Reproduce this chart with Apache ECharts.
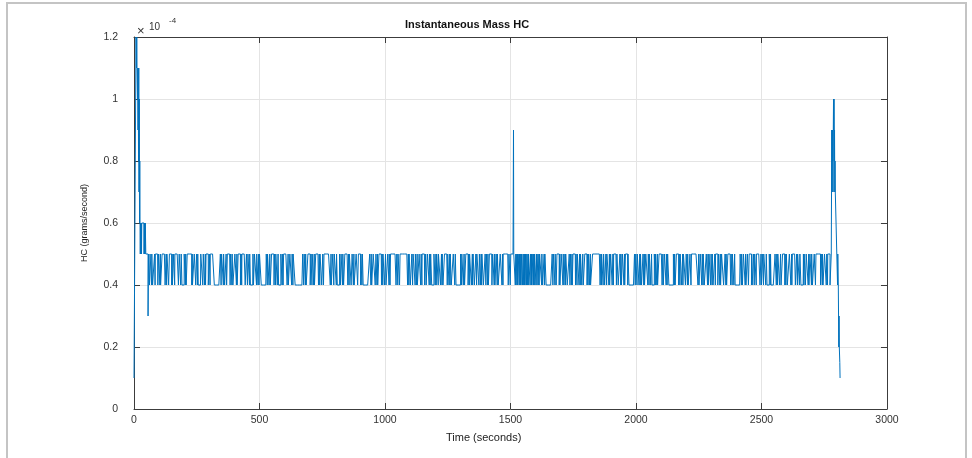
<!DOCTYPE html>
<html>
<head>
<meta charset="utf-8">
<script src="https://cdn.jsdelivr.net/npm/echarts@6/dist/echarts.min.js"></script>
<style>
html,body{margin:0;padding:0;background:#fff;}
#chart{width:972px;height:458px;}
</style>
</head>
<body>
<div id="chart"></div>
<script>
// Values are in units of 1e-4 grams/second (axis multiplier shown as ×10^-4)
const xTicks = [0, 500, 1000, 1500, 2000, 2500, 3000];
const yTicks = [0, 0.2, 0.4, 0.6, 0.8, 1, 1.2];

// t = 0 .. 57 s, one value per second
const startValues = [0.1,0.1,0.1,0.1,0.1,0.1,0.1,0.1,
  1.2,1.2,1.1,1.2,1.1,1.1,1.0,1.1,0.9,1.1,0.8,1.1,0.7,1.0,0.6,0.8,0.6,
  0.5,0.6,0.6,0.5,0.6,0.5,0.6,
  0.6,0.6,0.6,0.6,0.6,0.6,0.6,0.6,
  0.5,0.6,0.5,0.6,0.5,0.6,0.6,0.5,
  0.5,0.5,0.5,0.5,0.5,0.5,0.5,0.5,
  0.3,0.4];

const highLevel = 0.5;
const lowLevel = 0.4;
// run lengths in seconds from t = 58: positive = highLevel, negative = lowLevel
const runs = [
  4,-2,6,-1,3,-8,2,-1,10,-3,5,-2,1,-6,12,-4,2,-1,7,-3,9,-2,1,-5,4,-1,14,-3,6,-2,3,-9,5,-1,2,-4,18,-2,1,-7,6,-3,4,-1,2,-10,8,-2,5,-3,1,-2,9,-4,3,-1,16,
  -24,3,-2,7,-1,4,-6,2,-3,11,-2,5,-1,3,-8,6,-2,1,-4,9,-3,2,-1,13,-5,4,-2,6,-1,3,-10,2,-4,8,-1,5,-3,1,-2,7,-20,4,-1,6,-3,2,
  -5,10,-2,4,-1,6,-3,2,-9,5,-1,3,-2,14,-4,1,-6,7,-2,3,-1,8,-30,4,-2,5,-1,2,-7,9,-3,4,-1,6,-2,1,-5,11,-3,2,-1,7,-4,3,-2,25,-3,1,-6,4,-2,8,-1,3,
  -9,4,-2,6,-1,3,-5,12,-3,2,-1,7,-4,5,-2,1,-8,6,-3,9,-1,4,-2,3,-26,5,-1,2,-6,8,-3,4,-2,1,-5,10,-2,3,-1,6,-4,2,-7,5,-1,3,-2,22,-3,4,-1,6,-2,
  30,-3,2,-1,5,-6,3,-2,8,-1,4,-3,1,-7,6,-2,3,-1,10,-4,2,-5,7,-1,3,-2,4,-9,5,-3,1,-2,6,-1,8,-4,2,-1,3,-6,11,-2,5,-3,1,-1,4,-8,6,-2,3,
  -18,4,-1,6,-3,2,-5,9,-2,3,-1,7,-4,1,-2,5,-6,3,-1,8,-2,4,-3,2,-1,6,-7,3,-2,5,-1,2,-4,10,-3,6,-2,1,-5,4,-1,3,-8,7,-2,2,-1,20,-3,5,-2,18,
  -2,1,-3,2,-1,1,-4,2,-1,3,-2,1,-1,5,-2,1,-3,2,-1,1,-2,4,-1,2,-3,1,-1,6,-2,3,-1,1,-4,2,-2,1,-1,3,-5,2,-1,4,-3,1,-2,8,-1,3,-6,2,-1,5,-24,3,-2,6,-1,4,-3,9,-2,1,-5,7,-1,3,-4,2,-1,6,-8,3,-2,5,-1,1,-3,10,-2,4,-1,
  7,-2,3,-1,5,-4,2,-6,9,-1,3,-2,4,-3,1,-8,30,-3,2,-1,6,-2,4,-5,3,-1,8,-2,1,-4,6,-3,2,-1,11,-2,5,-7,3,-1,2,-4,6,-2,1,-3,9,-1,4,-22,3,-2,5,-1,7,-3,2,-1,4,-6,3,-2,1,
  -5,8,-2,3,-1,6,-3,2,-9,4,-1,5,-2,1,-6,12,-3,2,-4,7,-1,3,-2,5,-18,4,-1,2,-5,9,-2,3,-1,6,-4,1,-2,8,-3,5,-1,2,-7,4,-2,26,-3,1,-5,6,-2,3,-1,4,-8,5,-2,1,-3,
  6,-2,4,-1,3,-7,2,-1,9,-3,5,-2,1,-4,8,-6,3,-1,2,-5,11,-2,4,-1,6,-3,2,-20,5,-1,3,-4,7,-2,1,-6,4,-3,9,-1,2,-5,3,-2,6,-1,14,-4,2,-3,5,-1,8,-2,3,-9,4,-1,2,
  -16,5,-2,3,-1,7,-4,2,-6,9,-1,3,-2,4,-8,6,-3,1,-2,12,-5,3,-1,7,-2,4,-10,2,-1,5,-3,8,-2,1,-4,6,-1,3,-7,5,-2,18,-3,4,-1,2,-6,7,-2,3,-1,9,-4
];

// single-sample spike in the middle of the run
const spikeTimes = [1512];
const spikeValues = [0.9];

// final seconds of the record, one value per second
const endValues = [0.4,0.5,0.7,0.9,0.7,0.9,0.8,0.9,0.7,0.9,1.0,0.9,1.0,0.8,0.9,0.7,0.8,0.7,0.7,0.7,
  0.6,0.6,0.6,0.5,0.5,0.5,0.4,0.5,0.5,0.4,0.3,0.2,0.3,0.2,0.2,0.15,0.1];

const values = [];
startValues.forEach(v => values.push(v));
runs.forEach(r => {
  const n = Math.abs(r);
  const v = r > 0 ? highLevel : lowLevel;
  for (let i = 0; i < n; i++) values.push(v);
});
endValues.forEach(v => values.push(v));
spikeTimes.forEach((t, i) => { if (t < values.length) values[t] = spikeValues[i]; });
const data = values.map((v, t) => [t, v]);

const chart = echarts.init(document.getElementById('chart'), null, {renderer: 'canvas'});
const axisColor = '#3c3c3c';
const gridColor = '#e4e4e4';
const labelStyle = {color: '#333', fontSize: 10.5, fontFamily: 'Liberation Sans'};
const gridL = 134, gridR = 85, gridT = 37, gridB = 49;

const xBase = {
  type: 'value', min: 0, max: 3000, interval: 500,
  axisLine: {show: true, onZero: false, lineStyle: {color: axisColor, width: 1}},
  axisTick: {show: true, inside: true, length: 6, lineStyle: {color: axisColor}},
};
const yBase = {
  type: 'value', min: 0, max: 1.2, interval: 0.2,
  axisLine: {show: true, onZero: false, lineStyle: {color: axisColor, width: 1}},
  axisTick: {show: true, inside: true, length: 6, lineStyle: {color: axisColor}},
};

chart.setOption({
  animation: false,
  backgroundColor: '#fff',
  title: {
    text: 'Instantaneous Mass HC', left: 400, top: 14,
    textStyle: {fontSize: 11, fontWeight: 'bold', color: '#111', fontFamily: 'Liberation Sans'}
  },
  grid: {left: gridL, right: gridR, top: gridT, bottom: gridB, containLabel: false, outerBoundsMode: 'none'},
  xAxis: [
    Object.assign({}, xBase, {
      position: 'bottom',
      axisLabel: Object.assign({margin: 6, formatter: v => xTicks.includes(v) ? String(v) : ''}, labelStyle),
      splitLine: {show: true, lineStyle: {color: gridColor, width: 1}}
    }),
    Object.assign({}, xBase, {position: 'top', axisLabel: {show: false}, splitLine: {show: false}})
  ],
  yAxis: [
    Object.assign({}, yBase, {
      position: 'left',
      axisLabel: Object.assign({margin: 16, formatter: v => {
        const r = Math.round(v * 10) / 10;
        return yTicks.includes(r) ? String(r) : '';
      }}, labelStyle),
      splitLine: {show: true, lineStyle: {color: gridColor, width: 1}}
    }),
    Object.assign({}, yBase, {position: 'right', axisLabel: {show: false}, splitLine: {show: false}})
  ],
  graphic: [
    {type: 'rect', silent: true, z: -10, shape: {x: 7, y: 3, width: 959, height: 470},
      style: {fill: 'none', stroke: '#c4c4c4', lineWidth: 2}},
    {type: 'text', x: 137, y: 25, style: {text: '×', fontSize: 13, fill: '#333', fontFamily: 'Liberation Sans'}},
    {type: 'text', x: 149, y: 22, style: {text: '10', fontSize: 10, fill: '#333', fontFamily: 'Liberation Sans'}},
    {type: 'text', x: 169, y: 17, style: {text: '-4', fontSize: 8, fill: '#333', fontFamily: 'Liberation Sans'}},
    {type: 'text', x: 446, y: 432, style: {text: 'Time (seconds)', fontSize: 11, fill: '#222', fontFamily: 'Liberation Sans'}},
    {type: 'text', x: 80, y: 262, rotation: Math.PI / 2,
      style: {text: 'HC (grams/second)', fontSize: 9, fill: '#222', fontFamily: 'Liberation Sans'}}
  ],
  series: [{
    type: 'line', xAxisIndex: 0, yAxisIndex: 0, data: data, step: 'end',
    showSymbol: false, symbol: 'none', sampling: null,
    lineStyle: {color: '#0072BD', width: 1},
    z: 5
  }]
});
</script>
</body>
</html>
